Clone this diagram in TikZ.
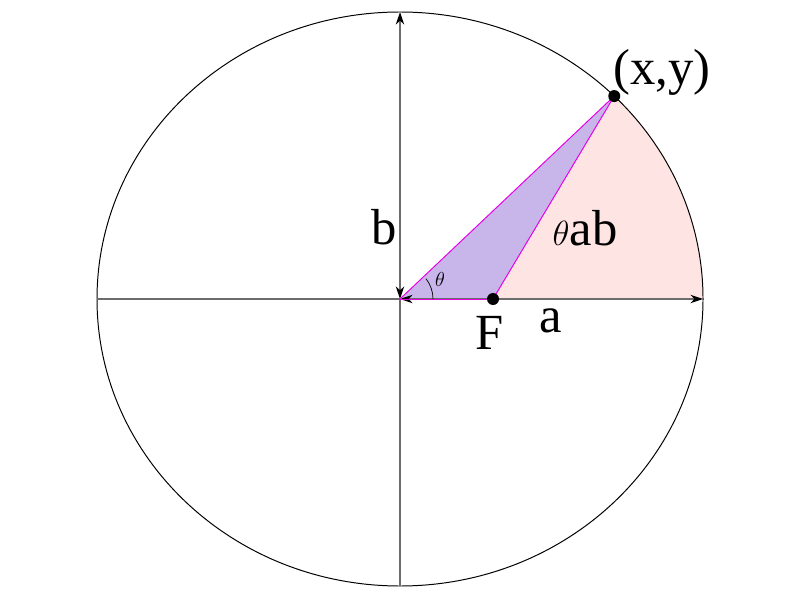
\documentclass[tikz,border=0pt]{standalone}
\usepackage{fontspec}
\setmainfont{Liberation Serif}
\usepackage{tikz}
\usetikzlibrary{arrows.meta,positioning}
\definecolor{lilac}{RGB}{200,182,234}
\definecolor{blush}{RGB}{255,228,228}
\definecolor{mag}{RGB}{230,0,230}
\begin{document}
\begin{tikzpicture}[x=0.025cm,y=0.025cm,
          axis/.style={draw=gray!85!black,line width=0.8pt},
          dim/.style={axis,{Stealth[black,length=9pt,width=6pt]}-{Stealth[black,length=9pt,width=6pt]}},
          edge/.style={draw=mag,line width=0.7pt},
          dot/.style={circle,fill=black,inner sep=0pt,minimum size=0.3cm},
          lbl/.style={font=\fontsize{36}{42}\selectfont,inner sep=0pt}]
        \useasboundingbox (0,0) rectangle (800,600);
        \coordinate (C) at (400,301);
        \coordinate (F) at (493,301);
        \coordinate (P) at ({400+303*cos(45)},{301+287*sin(45)});
        \coordinate (A) at (703,301);
        \coordinate (B) at (400,588);
        \coordinate (L) at (97,301);
        \coordinate (D) at (400,14);
        % filled regions
        \fill[blush] (P) arc[start angle=45,end angle=0,x radius=303,y radius=287]
          -- (F) -- cycle;
        \fill[lilac] (C) -- (F) -- (P) -- cycle;
        % ellipse and axes
        \draw[line width=0.7pt] (C) ellipse[x radius=303,y radius=287];
        \draw[axis] (L) -- (C);
        \draw[axis] (D) -- (C);
        \draw[dim] (C) -- (A);
        \draw[dim] (C) -- (B);
        \draw[edge] (C) -- (P);
        \draw[edge] (F) -- (P);
        \draw[edge] (C) -- (F);
        \draw[line width=0.5pt] ([shift={(33,0)}]C) arc[start angle=0,end angle=38,radius=33];
        \node[dot] (Fd) at (F) {};
        \node[dot] (Pd) at (P) {};
        % labels
        \node[lbl] (lb) at (384,373) {b};
        \node[lbl] (lta) at (585,372) {$\theta$ab};
        \node[lbl] (la) at (551,279) {a};
        \node[lbl] (lF) at (490,267) {F};
        \node[lbl] (lP) at (662,528) {(x,y)};
        \node[font=\fontsize{14}{16}\selectfont] (lt) at (440,321) {$\theta$};
      \end{tikzpicture}
\end{document}
